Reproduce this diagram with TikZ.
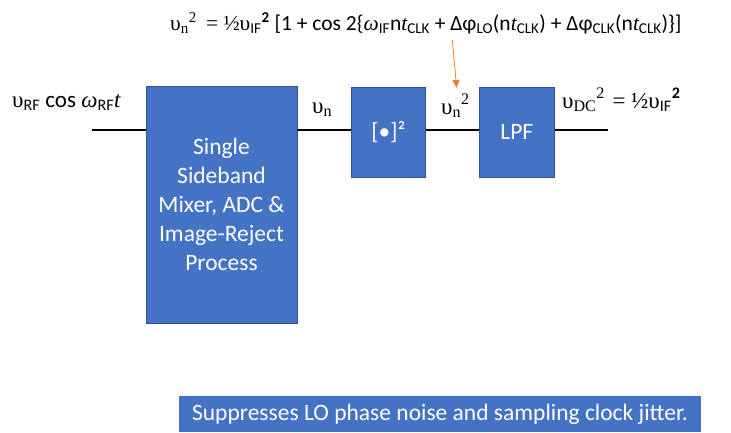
\documentclass[tikz,border=0pt]{standalone}
\usepackage{fontspec}
\setmainfont{Carlito}
\newfontfamily\serf{Liberation Serif}
\usetikzlibrary{arrows.meta}
\definecolor{boxblue}{HTML}{4472C4}
\definecolor{boxedge}{HTML}{2F528F}
\definecolor{arrorange}{HTML}{ED7D31}
\newcommand\ups{{\serf υ}}
\newcommand\omg{{\serf\itshape ω}}
\newcommand\tit{{\serf\itshape t}}
\begin{document}
\begin{tikzpicture}[x=1pt,y=-1pt,
  block/.style={draw=boxedge,line width=0.8pt,fill=boxblue,text=white,align=center,inner sep=0pt,font=\fontsize{23.5}{29}\selectfont},
  sig/.style={line width=2pt,black},
  lbl/.style={anchor=base west,inner sep=0pt,font=\fontsize{23}{27}\selectfont},
  topeq/.style={anchor=base west,inner sep=0pt,font=\fontsize{21.5}{26}\selectfont}]
\useasboundingbox (0,0) rectangle (731,432);
\node[block,minimum width=151pt,minimum height=237pt] (b1) at (221.5,204.5) {Single\\Sideband\\Mixer, ADC \&\\Image-Reject\\Process};
\node[block,minimum width=74.5pt,minimum height=90pt] (b2) at (388.5,132) {[•]²};
\node[block,minimum width=75pt,minimum height=90pt] (b3) at (516.8,132) {LPF};
\coordinate (in) at (92,130);
\coordinate (out) at (608,130);
\draw[sig] (in) -- (in -| b1.west);
\draw[sig] (in -| b1.east) -- (in -| b2.west);
\draw[sig] (in -| b2.east) -- (in -| b3.west);
\draw[sig] (in -| b3.east) -- (out);
\node[lbl] (lin) at (12,107) {\ups\textsubscript{RF} cos \omg\textsubscript{RF}\tit};
\node[lbl] (lvn) at (312,113) {\ups\textsubscript{\serf n}};
\node[lbl] (lvn2) at (441,114) {\ups\textsubscript{\serf n}\textsuperscript{\serf 2}};
\node[lbl] (lout) at (562,108) {\ups\textsubscript{\serf DC}\textsuperscript{\serf 2}\hspace{0.1em} {\serf = ½}\ups\textsubscript{IF}\textsuperscript{\bfseries 2}};
\node[topeq] (eq) at (170,30) {\ups\textsubscript{\serf n}\textsuperscript{\serf 2}\hspace{0.2em} {\serf = ½}\ups\textsubscript{IF}\textsuperscript{\bfseries 2} [1 + cos 2\{\omg\textsubscript{IF}n\tit\textsubscript{CLK} + Δφ\textsubscript{LO}(n\tit\textsubscript{CLK}) + Δφ\textsubscript{CLK}(n\tit\textsubscript{CLK})\}]};
\coordinate (astart) at (452.3,40);
\coordinate (aend) at (456.7,88);
\draw[arrorange,line width=0.8pt,-{Triangle[length=8pt,width=7pt]}] (astart) -- (aend);
\node[fill=boxblue,text=white,minimum width=522pt,minimum height=36pt,inner sep=0pt,font=\fontsize{23.5}{28}\selectfont] (banner) at (440,414) {Suppresses LO phase noise and sampling clock jitter.};
\end{tikzpicture}
\end{document}
